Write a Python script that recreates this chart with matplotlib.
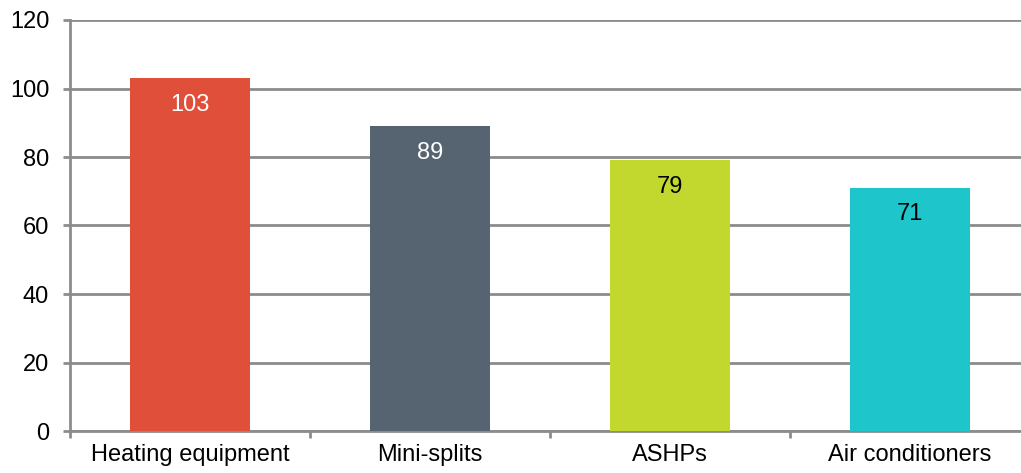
import matplotlib
matplotlib.use("Agg")
import matplotlib.pyplot as plt

categories = ["Heating equipment", "Mini-splits", "ASHPs", "Air conditioners"]
values = [103, 89, 79, 71]
bar_colors = ["#E04F39", "#566370", "#C2D82F", "#1EC6CB"]
label_colors = ["white", "white", "black", "black"]
y_ticks = [0, 20, 40, 60, 80, 100, 120]

plt.rcParams['font.family'] = ['Liberation Sans', 'DejaVu Sans']

fig = plt.figure(figsize=(10.21, 4.73), dpi=100)
# axes runs a bit past the right edge, like the original
ax = fig.add_axes([70 / 1021, 1 - 431 / 473, 960 / 1021, 411 / 473])

x = list(range(len(categories)))
ax.bar(x, values, width=0.5, color=bar_colors, zorder=3)

for xi, v, c in zip(x, values, label_colors):
    ax.annotate(str(v), (xi, v), xytext=(0, -19), textcoords="offset points",
                ha="center", va="center", fontsize=17, color=c, zorder=4)

grid_color = "#8C8C8C"
ax.set_ylim(0, 120)
ax.set_xlim(-0.5, len(categories) - 0.5)
ax.set_yticks(y_ticks)
ax.yaxis.grid(True, color=grid_color, linewidth=2, zorder=0)

ax.set_xticks(x)
ax.set_xticklabels(categories, fontsize=17)
ax.set_xticks([i - 0.5 for i in range(len(categories) + 1)], minor=True)
ax.tick_params(axis="x", which="major", length=0, pad=9)
ax.tick_params(axis="x", which="minor", length=5, width=2, color=grid_color)
ax.tick_params(axis="y", length=5, width=2, color=grid_color, labelsize=17, pad=10)

for side in ["top", "right"]:
    ax.spines[side].set_visible(False)
for side in ["left", "bottom"]:
    ax.spines[side].set_color(grid_color)
    ax.spines[side].set_linewidth(2)

fig.savefig("out.png", dpi=100)
